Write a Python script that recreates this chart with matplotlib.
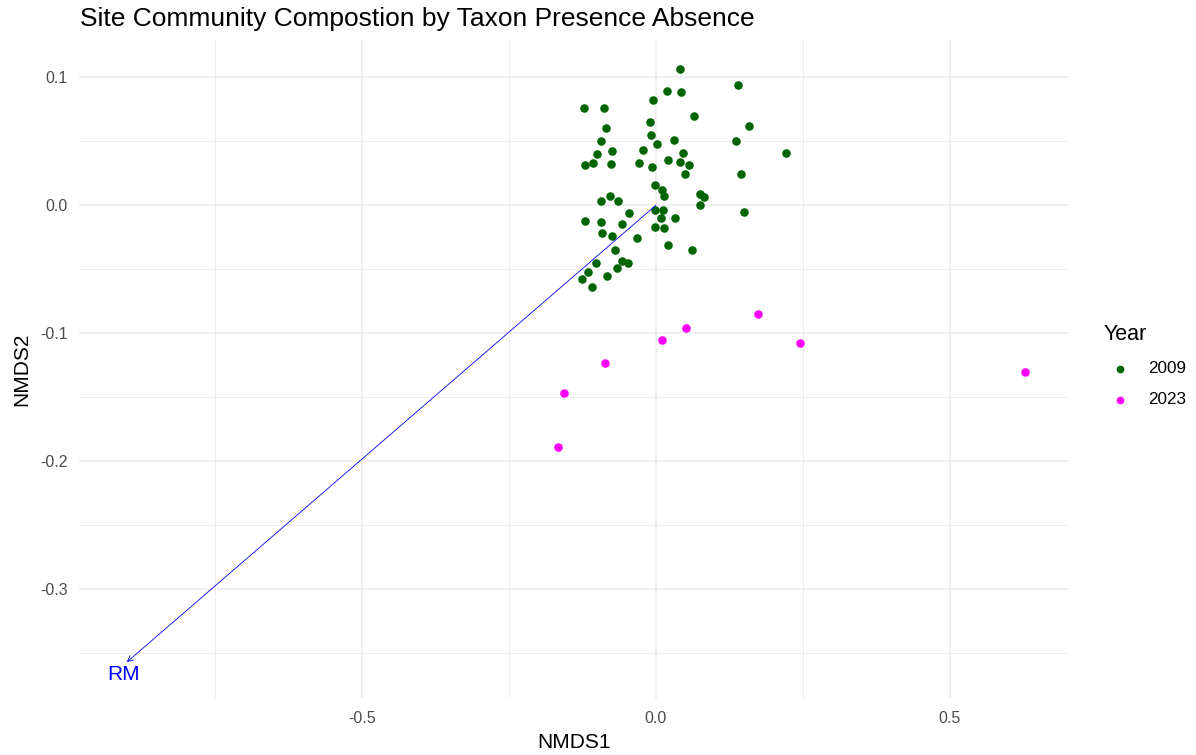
import matplotlib
matplotlib.use("Agg")
import matplotlib.pyplot as plt
from matplotlib.ticker import MultipleLocator

plt.rcParams['font.family'] = ['Liberation Sans', 'DejaVu Sans']

# 2009 sites
x2009 = [0.041, 0.140, 0.018, 0.043, -0.005, -0.123, -0.088, 0.065, 0.158, -0.011,
         -0.085, -0.009, -0.094, 0.031, 0.136, 0.002, -0.022, -0.075, -0.100, 0.046,
         0.221, -0.107, -0.121, -0.077, -0.029, -0.006, 0.020, 0.041, 0.056, 0.049,
         0.144, -0.001, 0.010, 0.014, 0.074, 0.082, 0.074, -0.079, -0.094, -0.065,
         -0.002, 0.012, 0.009, 0.032, -0.046, 0.150, -0.120, -0.094, -0.057, -0.001,
         0.013, -0.092, -0.075, -0.032, 0.020, 0.062, -0.069, -0.102, -0.057, -0.048,
         -0.066, -0.115, -0.083, -0.125, -0.108]
y2009 = [0.106, 0.094, 0.089, 0.088, 0.082, 0.076, 0.076, 0.070, 0.062, 0.065,
         0.060, 0.055, 0.050, 0.051, 0.050, 0.048, 0.043, 0.042, 0.040, 0.041,
         0.041, 0.033, 0.031, 0.032, 0.033, 0.030, 0.035, 0.034, 0.031, 0.024,
         0.024, 0.016, 0.012, 0.007, 0.009, 0.006, 0.000, 0.007, 0.003, 0.003,
         -0.004, -0.004, -0.010, -0.010, -0.006, -0.005, -0.012, -0.013, -0.015, -0.017,
         -0.018, -0.022, -0.024, -0.026, -0.031, -0.035, -0.035, -0.045, -0.044, -0.045,
         -0.049, -0.052, -0.055, -0.058, -0.064]

# 2023 sites
x2023 = [0.173, 0.051, 0.010, 0.245, -0.086, -0.156, -0.166, 0.628]
y2023 = [-0.085, -0.096, -0.105, -0.108, -0.123, -0.147, -0.189, -0.130]

# environmental vector
vec_name = "RM"
vec_x = -0.900
vec_y = -0.357

years = ["2009", "2023"]
colors = ["#006400", "#FF00FF"]

fig = plt.figure(figsize=(11.96, 7.55), dpi=100)
ax = fig.add_axes([0.0657, 0.0755, 0.8289, 0.8715])

ax.set_xlim(-0.982, 0.704)
ax.set_ylim(-0.385, 0.129)

ax.xaxis.set_major_locator(MultipleLocator(0.5))
ax.xaxis.set_minor_locator(MultipleLocator(0.25))
ax.yaxis.set_major_locator(MultipleLocator(0.1))
ax.yaxis.set_minor_locator(MultipleLocator(0.05))
ax.grid(which='major', color='#ebebeb', linewidth=1.1)
ax.grid(which='minor', color='#ebebeb', linewidth=0.6)
ax.set_axisbelow(True)
for s in ax.spines.values():
    s.set_visible(False)
ax.tick_params(which='both', length=0, labelsize=11.5, labelcolor='#4d4d4d')
ax.tick_params(axis='x', pad=9.5)
ax.tick_params(axis='y', pad=8)

def fmt(v, pos):
    return f"{v:.1f}".replace("-0.0", "0.0")
ax.xaxis.set_major_formatter(plt.FuncFormatter(fmt))
ax.yaxis.set_major_formatter(plt.FuncFormatter(fmt))

ax.scatter(x2009, y2009, s=38, color=colors[0], label=years[0], zorder=3, linewidths=0)
ax.scatter(x2023, y2023, s=38, color=colors[1], label=years[1], zorder=3, linewidths=0)

ax.annotate("", xy=(vec_x, vec_y), xytext=(0, 0),
            arrowprops=dict(arrowstyle='->', color='blue', lw=0.6,
                            shrinkA=0, shrinkB=0, mutation_scale=10))
ax.text(vec_x - 0.005, vec_y - 0.0095, vec_name, color='blue', fontsize=15,
        ha='center', va='center')

ax.set_xlabel("NMDS1", fontsize=15, labelpad=5)
ax.set_ylabel("NMDS2", fontsize=15, labelpad=6)
fig.text(0.0665, 0.975, "Site Community Compostion by Taxon Presence Absence",
         fontsize=19, ha='left', va='center')

leg = ax.legend(title="Year", loc='center left', bbox_to_anchor=(1.018, 0.505),
                frameon=False, fontsize=12.3, title_fontsize=15.5,
                handletextpad=0.65, labelspacing=0.95, markerscale=0.9)
leg._legend_box.align = "left"

fig.savefig("out.png", dpi=100)
